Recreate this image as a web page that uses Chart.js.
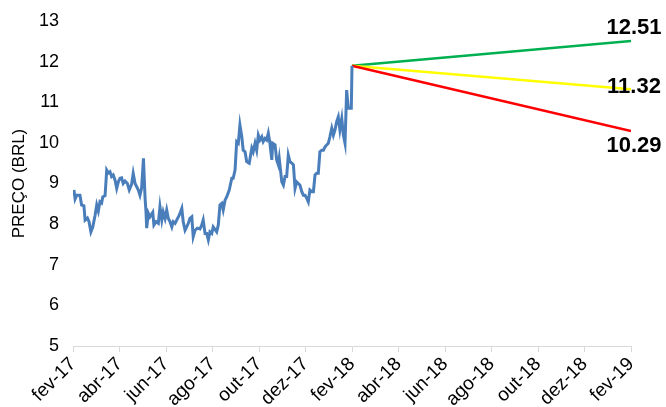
<!DOCTYPE html>
<html>
<head>
<meta charset="utf-8">
<script src="https://cdn.jsdelivr.net/npm/chart.js@4/dist/chart.umd.min.js"></script>
<style>
  html, body { margin: 0; padding: 0; background: #fff; }
  #wrap { width: 666px; height: 407px; position: relative; }
</style>
</head>
<body>
<div id="wrap"><canvas id="chart"></canvas></div>
<script>
// tick labels, one every two months from fev-17 (month 0) to fev-19 (month 24)
const monthLabels = ['fev-17', 'abr-17', 'jun-17', 'ago-17', 'out-17', 'dez-17',
  'fev-18', 'abr-18', 'jun-18', 'ago-18', 'out-18', 'dez-18', 'fev-19'];

// price history: position in months since fev-17, and price in BRL
const priceMonths = [
  0.04, 0.09, 0.16, 0.30, 0.37, 0.47, 0.52, 0.62, 0.69, 0.77, 0.85, 0.95,
  1.02, 1.09, 1.16, 1.23, 1.28, 1.38, 1.45, 1.52, 1.59, 1.66, 1.73, 1.81,
  1.88, 1.95, 2.02, 2.09, 2.16, 2.24, 2.34, 2.42, 2.52, 2.59, 2.67, 2.74,
  2.81, 2.88, 2.95, 3.03, 3.10, 3.14, 3.17, 3.24, 3.31, 3.43, 3.48, 3.57,
  3.67, 3.74, 3.82, 3.88, 3.96, 4.03, 4.10, 4.17, 4.25, 4.31, 4.39, 4.46,
  4.57, 4.68, 4.74, 4.82, 4.89, 4.96, 5.03, 5.11, 5.17, 5.25, 5.35, 5.46,
  5.54, 5.60, 5.68, 5.75, 5.82, 5.89, 5.97, 6.03, 6.18, 6.25, 6.32, 6.40,
  6.46, 6.54, 6.61, 6.72, 6.83, 6.89, 6.97, 7.04, 7.11, 7.18, 7.26, 7.32,
  7.40, 7.47, 7.58, 7.69, 7.75, 7.83, 7.90, 7.97, 8.04, 8.12, 8.18, 8.26,
  8.33, 8.40, 8.47, 8.55, 8.59, 8.69, 8.76, 8.83, 8.87, 8.98, 9.05, 9.12,
  9.19, 9.26, 9.33, 9.41, 9.48, 9.55, 9.62, 9.69, 9.76, 9.84, 9.91, 9.98,
  10.05, 10.12, 10.19, 10.27, 10.34, 10.41, 10.48, 10.55, 10.62, 10.70, 10.77, 10.84,
  10.91, 10.98, 11.05, 11.13, 11.20, 11.27, 11.34, 11.41, 11.48, 11.56, 11.63, 11.70,
  11.77, 11.84, 11.91, 11.97, 12.0
];
const priceValues = [
  8.84, 8.62, 8.71, 8.71, 8.47, 8.45, 8.10, 8.15, 8.06, 7.81, 7.93, 8.22,
  8.47, 8.32, 8.55, 8.52, 8.67, 8.70, 9.33, 9.26, 9.29, 9.17, 9.21, 9.08,
  8.88, 9.04, 9.13, 9.14, 9.00, 9.06, 9.00, 8.84, 8.98, 9.25, 9.00, 8.92,
  8.84, 8.71, 8.88, 9.62, 8.64, 8.30, 7.90, 8.27, 8.18, 8.29, 7.98, 8.06,
  8.02, 8.43, 8.10, 8.30, 8.14, 8.35, 8.14, 8.06, 7.93, 8.06, 8.02, 8.10,
  8.22, 8.39, 8.06, 7.85, 7.93, 8.02, 8.14, 8.18, 7.69, 7.85, 7.90, 7.88,
  7.98, 8.10, 7.77, 7.77, 7.61, 7.81, 7.77, 7.93, 7.81, 7.98, 8.47, 8.51,
  8.35, 8.59, 8.67, 8.84, 9.13, 9.13, 9.33, 10.03, 9.99, 10.44, 10.15, 9.82,
  9.78, 9.54, 9.50, 9.87, 9.78, 9.99, 9.82, 10.19, 10.07, 10.15, 10.03, 10.11,
  10.07, 10.24, 9.99, 9.58, 9.99, 9.95, 9.58, 9.46, 9.62, 9.04, 8.96, 9.17,
  9.17, 9.70, 9.54, 9.50, 9.46, 8.88, 9.04, 9.00, 8.96, 8.80, 8.71, 8.71,
  8.64, 8.55, 8.84, 8.80, 8.80, 9.21, 9.25, 9.25, 9.78, 9.82, 9.82, 9.90,
  9.95, 9.99, 10.15, 10.36, 10.19, 10.32, 10.52, 10.64, 10.32, 10.60, 10.19, 9.99,
  11.30, 10.85, 10.85, 10.85, 11.90
];

// projections from fev-18 to fev-19
const projMonths = [12, 24];
const projHigh = [11.90, 12.51];
const projMid = [11.90, 11.32];
const projLow = [11.90, 10.29];

const pricePoints = priceMonths.map((m, i) => ({ x: m, y: priceValues[i] }));
const toPoints = vals => projMonths.map((m, i) => ({ x: m, y: vals[i] }));

const FONT = '"Liberation Sans", Arial, sans-serif';

// draws the end value of each projection next to its line end
const endLabels = {
  id: 'endLabels',
  afterDatasetsDraw(chart) {
    const ctx = chart.ctx;
    ctx.save();
    ctx.font = 'bold 22px ' + FONT;
    ctx.fillStyle = '#000';
    ctx.textAlign = 'center';
    ctx.textBaseline = 'middle';
    chart.data.datasets.forEach((ds, i) => {
      if (ds.labelOffset === undefined) return;
      const pts = chart.getDatasetMeta(i).data;
      const last = pts[pts.length - 1];
      const val = ds.data[ds.data.length - 1].y;
      ctx.fillText(val.toFixed(2), last.x + 3, last.y + ds.labelOffset);
    });
    ctx.restore();
  }
};

new Chart(document.getElementById('chart'), {
  type: 'line',
  data: {
    datasets: [
      {
        label: 'Preço',
        data: pricePoints,
        borderColor: '#4a7ebb',
        borderWidth: 3,
        pointRadius: 0,
        tension: 0
      },
      {
        label: 'Pessimista',
        data: toPoints(projLow),
        borderColor: '#ff0000',
        borderWidth: 2.5,
        pointRadius: 0,
        labelOffset: 15
      },
      {
        label: 'Base',
        data: toPoints(projMid),
        borderColor: '#ffff00',
        borderWidth: 2.5,
        pointRadius: 0,
        labelOffset: -2
      },
      {
        label: 'Otimista',
        data: toPoints(projHigh),
        borderColor: '#00b050',
        borderWidth: 2.5,
        pointRadius: 0,
        labelOffset: -13
      }
    ]
  },
  options: {
    responsive: true,
    maintainAspectRatio: false,
    animation: false,
    layout: { padding: { top: 21, right: 35, left: 0, bottom: 0 } },
    plugins: {
      legend: { display: false },
      tooltip: { enabled: false }
    },
    scales: {
      x: {
        type: 'linear',
        min: 0,
        max: 24,
        afterFit(scale) { scale.height = 61; },
        grid: {
          drawOnChartArea: false,
          drawTicks: true,
          tickLength: 6,
          color: '#d9d9d9'
        },
        border: { display: true, color: '#d9d9d9', width: 1 },
        ticks: {
          stepSize: 2,
          autoSkip: false,
          minRotation: 45,
          maxRotation: 45,
          padding: 1,
          color: '#000',
          font: { family: FONT, size: 19 },
          callback: v => monthLabels[v / 2]
        }
      },
      y: {
        min: 5,
        max: 13,
        afterFit(scale) { scale.width = 73; },
        grid: { display: false },
        border: { display: false },
        ticks: {
          stepSize: 1,
          padding: 6,
          color: '#000',
          font: { family: FONT, size: 18 }
        },
        title: {
          display: true,
          text: 'PREÇO (BRL)',
          color: '#000',
          padding: { top: 9, bottom: 0 },
          font: { family: FONT, size: 17 }
        }
      }
    }
  },
  plugins: [endLabels]
});
</script>
</body>
</html>
